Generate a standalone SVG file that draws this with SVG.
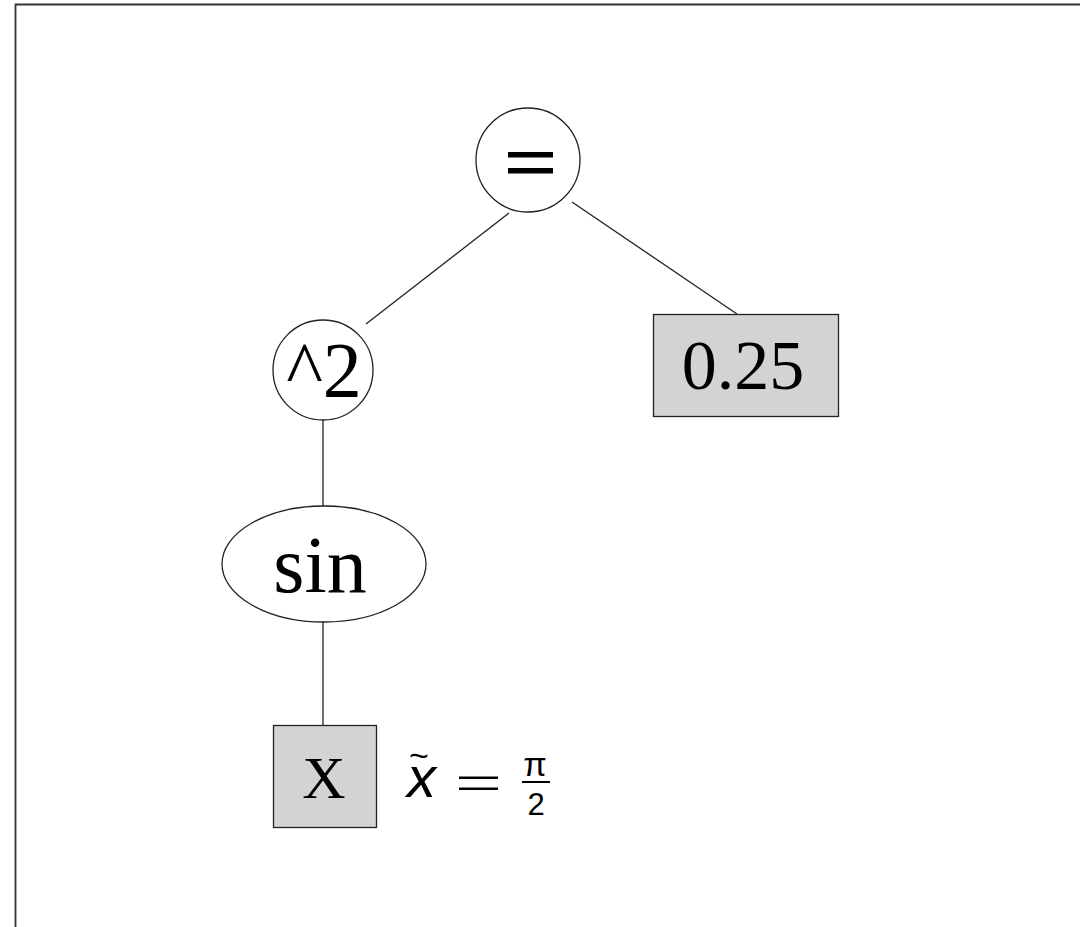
<svg xmlns="http://www.w3.org/2000/svg" width="1080" height="927" viewBox="0 0 1080 927">
<style>
.n{fill:#fff;stroke:#222;stroke-width:1.3}
.b{fill:#d3d3d3;stroke:#222;stroke-width:1.3}
.e{stroke:#222;stroke-width:1.3;fill:none}
.t{font-family:"Liberation Serif",serif;fill:#000;text-anchor:middle}
.m{font-family:"Liberation Sans",sans-serif;fill:#000}
</style>
<rect width="1080" height="927" fill="#fff"/>
<path d="M15.5 927 V4.5 H1080" fill="none" stroke="#333" stroke-width="1.8"/>
<g id="connectors">
<line class="e" x1="509" y1="213" x2="366" y2="324"/>
<line class="e" x1="572" y1="202" x2="737" y2="314"/>
<line class="e" x1="323" y1="420" x2="323" y2="506"/>
<line class="e" x1="323" y1="622" x2="323" y2="725"/>
</g>
<g id="eq">
<circle class="n" cx="528" cy="160" r="52"/>
<rect x="508" y="152" width="45" height="5.5" fill="#000"/>
<rect x="508" y="168" width="45" height="5.5" fill="#000"/>
</g>
<g id="sq">
<circle class="n" cx="323" cy="370" r="50"/>
<text class="t" x="324" y="396" font-size="78">^2</text>
</g>
<g id="c025">
<rect class="b" x="653.5" y="314.5" width="185" height="102"/>
<text class="t" x="743" y="389" font-size="70">0.25</text>
</g>
<g id="sin">
<ellipse class="n" cx="324" cy="564" rx="102" ry="58"/>
<text class="t" x="320" y="592" font-size="80">sin</text>
</g>
<g id="x">
<rect class="b" x="273.5" y="725.5" width="103" height="102"/>
<text class="t" x="324" y="798" font-size="60">X</text>
</g>
<g id="label">
<text class="m" x="407" y="797" font-size="58" font-style="italic">x</text>
<text class="m" x="409" y="767" font-size="34">~</text>
<rect x="459" y="776.5" width="39" height="2.5" fill="#000"/>
<rect x="459" y="787.5" width="39" height="2.5" fill="#000"/>
<text class="m" x="535" y="776" font-size="34" text-anchor="middle" font-family="DejaVu Sans">π</text>
<rect x="522" y="781" width="28" height="2" fill="#000"/>
<text class="m" x="536" y="815" font-size="31" text-anchor="middle">2</text>
</g>
</svg>
